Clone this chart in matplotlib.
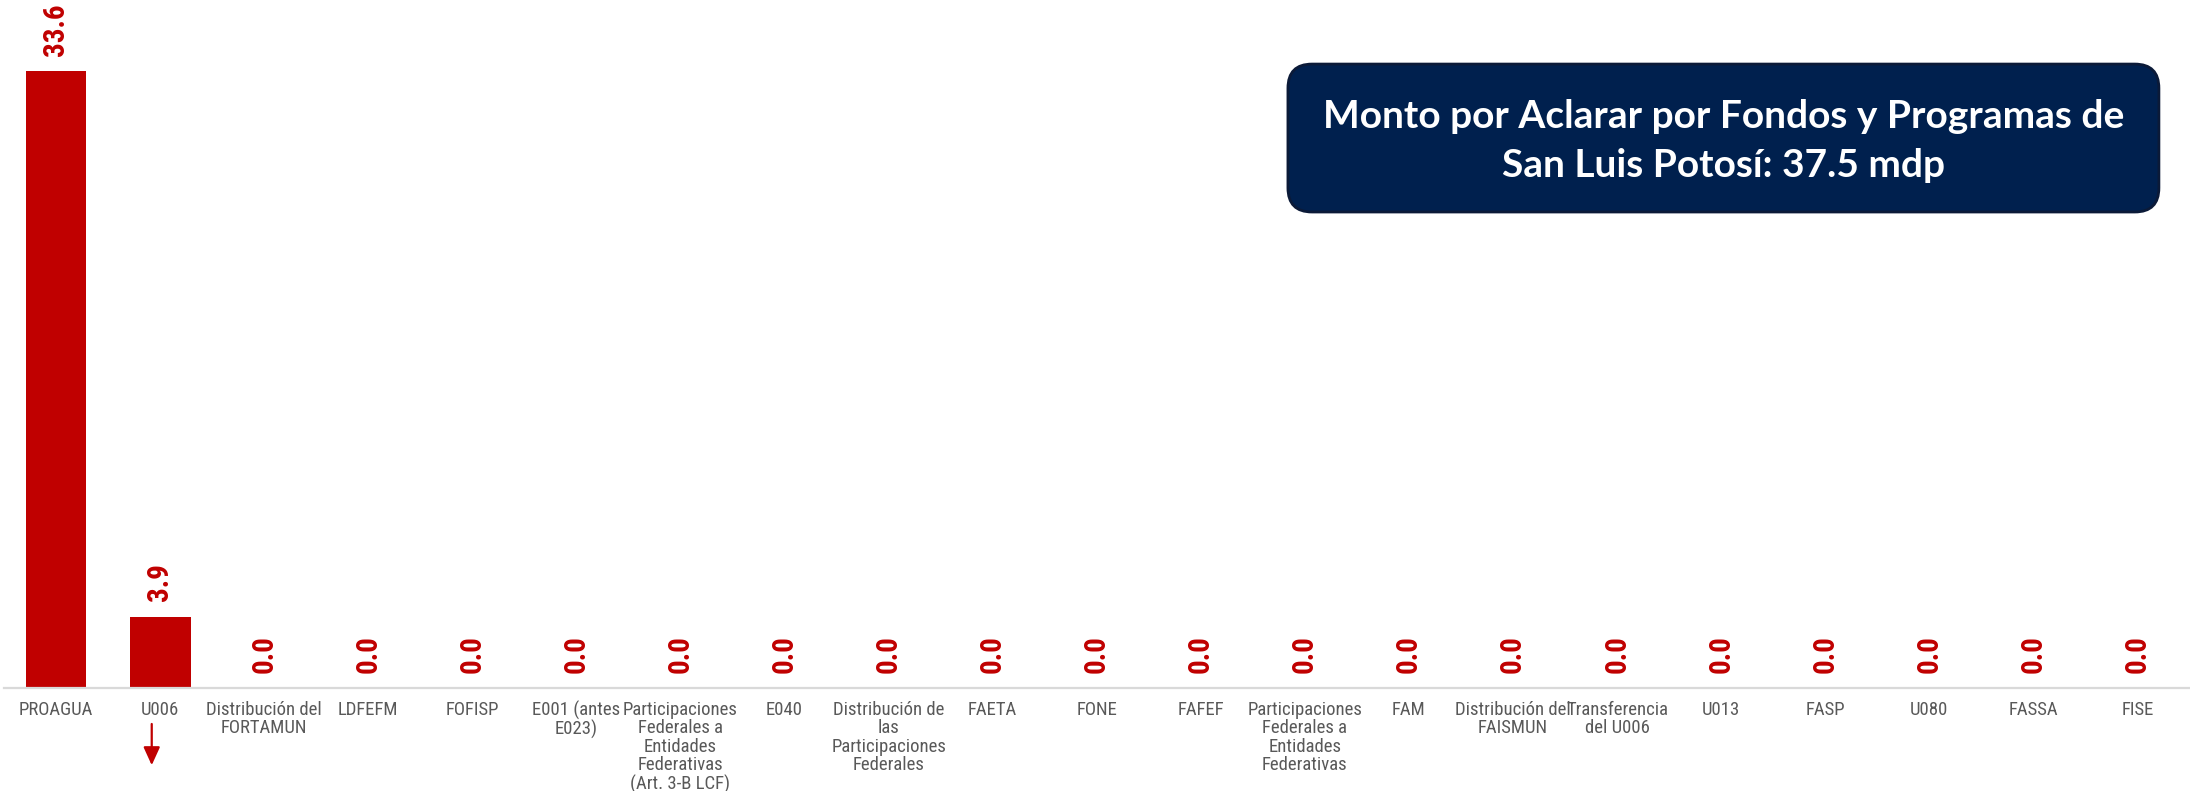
import matplotlib
matplotlib.use("Agg")
import matplotlib.pyplot as plt
from matplotlib.patches import FancyBboxPatch
from matplotlib import font_manager as fm
from matplotlib.font_manager import FontProperties

categories = [
    "PROAGUA", "U006", "Distribución del\nFORTAMUN", "LDFEFM", "FOFISP",
    "E001 (antes\nE023)",
    "Participaciones\nFederales a\nEntidades\nFederativas\n(Art. 3-B LCF)",
    "E040", "Distribución de\nlas\nParticipaciones\nFederales",
    "FAETA", "FONE", "FAFEF",
    "Participaciones\nFederales a\nEntidades\nFederativas",
    "FAM", "Distribución del\nFAISMUN", "Transferencia\ndel U006",
    "U013", "FASP", "U080", "FASSA", "FISE",
]
values = [33.6, 3.9, 0.0, 0.0, 0.0, 0.0, 0.0, 0.0, 0.0, 0.0, 0.0,
          0.0, 0.0, 0.0, 0.0, 0.0, 0.0, 0.0, 0.0, 0.0, 0.0]
title_text = "Monto por Aclarar por Fondos y Programas de\nSan Luis Potosí: 37.5 mdp"

# ---- find a condensed sans font if one is installed ----
def _is_condensed(f):
    st = f.stretch
    if isinstance(st, str):
        return st in ("condensed", "semi-condensed", "extra-condensed", "ultra-condensed")
    try:
        return int(st) < 500
    except Exception:
        return False

groups = {}
for f in fm.fontManager.ttflist:
    if ("Narrow" in f.name or "Condensed" in f.name or _is_condensed(f)) and f.style == "normal":
        groups.setdefault(f.name, []).append(f)

pref = ["Liberation Sans Narrow", "Arial Narrow", "Roboto Condensed", "Open Sans Condensed",
        "Noto Sans Condensed", "DejaVu Sans Condensed", "DejaVu Sans", "Lato"]
chosen = None
for name in pref + sorted(groups):
    if name in groups:
        fl = groups[name]
        regs = [f for f in fl if f.weight in (400, "normal", "regular", "book")]
        bolds = [f for f in fl if f.weight in (700, "bold")]
        if regs and bolds:
            chosen = (regs[0].fname, bolds[0].fname)
            break

if chosen:
    tick_fp = FontProperties(fname=chosen[0], size=13.5)
    val_fp = FontProperties(fname=chosen[1], size=21)
    tick_ls = 1.03
else:
    tick_fp = FontProperties(family="Liberation Sans", size=11.5)
    val_fp = FontProperties(family="Liberation Sans", weight="bold", size=20)
    tick_ls = 1.1

available = {f.name for f in fm.fontManager.ttflist}
title_font = "Lato" if "Lato" in available else "DejaVu Sans"

RED = "#c00000"
GRAY = "#595959"

fig = plt.figure(figsize=(21.9, 7.91), dpi=100)
ax = fig.add_axes([0.0018, 0.130, 0.998, 0.870])

x = list(range(len(categories)))
ax.bar(x, values, width=0.585, color=RED, zorder=2)
ax.set_xlim(-0.5, len(categories) - 0.5)
ax.set_ylim(0, 37.47)

for xi, v in zip(x, values):
    ax.annotate(f"{v:.1f}", xy=(xi, v), xytext=(0, 11), textcoords="offset points",
                rotation=90, ha="center", va="bottom", color=RED,
                fontproperties=val_fp)

ax.set_xticks(x)
ax.set_xticklabels(categories, color=GRAY, fontproperties=tick_fp,
                   linespacing=tick_ls, va="top")
ax.tick_params(axis="x", length=0, pad=9)
ax.set_yticks([])
for s in ["top", "left", "right"]:
    ax.spines[s].set_visible(False)
ax.spines["bottom"].set_color("#d9d9d9")
ax.spines["bottom"].set_linewidth(1.6)

# arrow under U006
ax.annotate("", xy=(0.92, -0.116), xytext=(0.92, -0.048),
            xycoords=ax.get_xaxis_transform(), textcoords=ax.get_xaxis_transform(),
            arrowprops=dict(arrowstyle="-|>,head_length=1.1,head_width=0.5",
                            color=RED, lw=1.6), annotation_clip=False)

# title box
box = FancyBboxPatch((0.5881, 0.732), 0.3977, 0.187,
                     boxstyle="round,pad=0,rounding_size=0.011",
                     transform=fig.transFigure, facecolor="#00204e",
                     edgecolor="#0b1a38", linewidth=2.0,
                     mutation_aspect=2190 / 791)
fig.patches.append(box)
fig.text(0.5881 + 0.3977 / 2, 0.732 + 0.187 / 2 - 0.004, title_text, ha="center", va="center",
         color="white", fontsize=28, fontweight="bold", family=[title_font, "DejaVu Sans"],
         linespacing=1.5)

fig.savefig("out.png", dpi=100)
